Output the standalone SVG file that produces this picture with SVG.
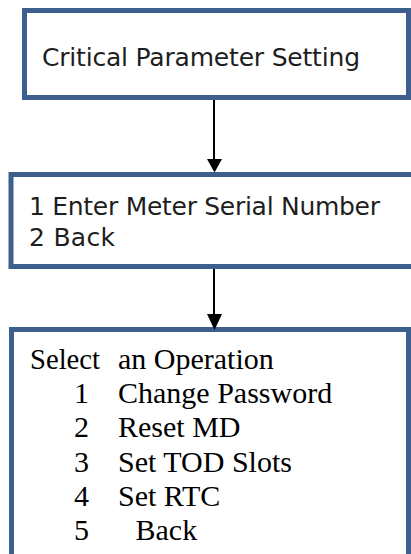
<svg xmlns="http://www.w3.org/2000/svg" width="411" height="554" viewBox="0 0 411 554">
<style>
.box{fill:#ffffff;stroke:#3d5f8e;stroke-width:5}
.sans{font-family:"DejaVu Sans","Liberation Sans",sans-serif;font-size:25px;fill:#1e1e1e}
.serif{font-family:"Liberation Serif","Times New Roman",serif;font-size:30px;fill:#000000}
.conn{stroke:#000000;stroke-width:2;fill:none}
.head{fill:#000000}
</style>
<rect width="411" height="554" fill="#ffffff"/>
<g id="node-critical">
<rect class="box" x="24.5" y="10.5" width="384" height="87"/>
<text class="sans" x="42" y="65.5" textLength="318" lengthAdjust="spacing">Critical Parameter Setting</text>
</g>
<g id="node-serial">
<rect class="box" x="11" y="174.5" width="406" height="92"/>
<text class="sans" x="29" y="214.5" textLength="351" lengthAdjust="spacing">1 Enter Meter Serial Number</text>
<text class="sans" x="29" y="246" textLength="86" lengthAdjust="spacing">2 Back</text>
</g>
<g id="node-operation">
<rect class="box" x="11.5" y="329.5" width="397" height="240"/>
<text class="serif" x="30" y="369" textLength="70" lengthAdjust="spacingAndGlyphs">Select</text>
<text class="serif" x="118" y="369">an Operation</text>
<text class="serif" x="74" y="402.5">1</text>
<text class="serif" x="118" y="402.5">Change Password</text>
<text class="serif" x="74" y="437">2</text>
<text class="serif" x="118" y="437">Reset MD</text>
<text class="serif" x="74" y="471.5">3</text>
<text class="serif" x="118" y="471.5">Set TOD Slots</text>
<text class="serif" x="74" y="506">4</text>
<text class="serif" x="118" y="506">Set RTC</text>
<text class="serif" x="74" y="540">5</text>
<text class="serif" x="135.5" y="540">Back</text>
</g>
<g id="connectors">
<line class="conn" x1="214" y1="100" x2="214" y2="160"/>
<polygon class="head" points="207,159 222,159 214.5,172.5"/>
<line class="conn" x1="214" y1="269" x2="214" y2="315"/>
<polygon class="head" points="207,314 222,314 214.5,330"/>
</g>
</svg>
